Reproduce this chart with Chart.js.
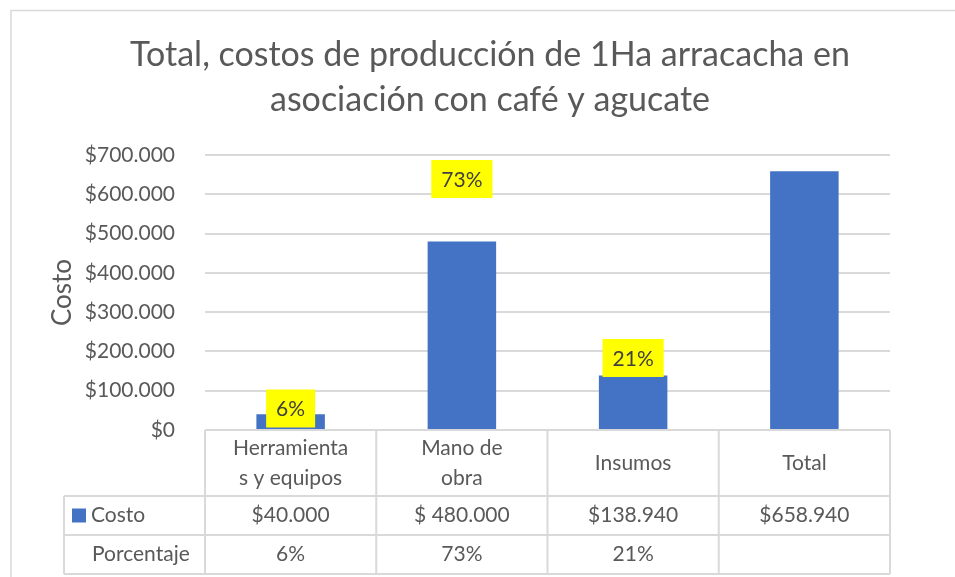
<!DOCTYPE html>
<html lang="es">
<head>
  <meta charset="UTF-8" />
  <title>Costos de producción arracacha</title>
  <script src="https://cdn.jsdelivr.net/npm/chart.js"></script>
  <style>
    html, body { margin: 0; padding: 0; background: #ffffff; }
    #wrap { width: 955px; height: 577px; position: relative; }
  </style>
</head>
<body>
  <div id="wrap"><canvas id="grafica"></canvas></div>

  <script>
    // Datos de la gráfica
    const titulo = ['Total, costos de producción de 1Ha arracacha en', 'asociación con café y agucate'];
    const categorias = [['Herramienta', 's y equipos'], ['Mano de', 'obra'], 'Insumos', 'Total'];
    const costos = [40000, 480000, 138940, 658940];
    const costosTexto = ['$40.000', '$ 480.000', '$138.940', '$658.940'];
    const porcentajes = ['6%', '73%', '21%', ''];
    const ticksY = [0, 100000, 200000, 300000, 400000, 500000, 600000, 700000];

    const gris = '#595959';
    const linea = '#d9d9d9';
    const fuente = 'Lato, "Open Sans", sans-serif';

    function formatoPeso(v) {
      if (v === 0) return '$0';
      return '$' + String(v).replace(/\B(?=(\d{3})+(?!\d))/g, '.');
    }

    // Borde exterior, título, etiquetas amarillas y tabla de datos
    const pluginExcel = {
      id: 'pluginExcel',
      beforeDraw(chart) {
        const ctx = chart.ctx;
        ctx.save();
        ctx.strokeStyle = linea;
        ctx.lineWidth = 1.5;
        ctx.beginPath();
        ctx.moveTo(11, 577);
        ctx.lineTo(11, 10.5);
        ctx.lineTo(955, 10.5);
        ctx.stroke();

        // título centrado como en Excel
        ctx.fillStyle = gris;
        ctx.font = '34px ' + fuente;
        ctx.textAlign = 'center';
        ctx.textBaseline = 'middle';
        ctx.fillText(titulo[0], 490, 55);
        ctx.fillText(titulo[1], 490, 100);
        ctx.restore();
      },
      afterDraw(chart, args, opts) {
        const ctx = chart.ctx;
        const x = chart.scales.x;
        const y = chart.scales.y;
        const n = categorias.length;
        const ancho = (x.right - x.left) / n;
        ctx.save();

        // etiquetas de porcentaje
        ctx.font = '21px ' + fuente;
        ctx.textAlign = 'center';
        ctx.textBaseline = 'middle';
        porcentajes.forEach((p, i) => {
          if (!p || opts.etiquetaEn[i] == null) return;
          const cx = x.getPixelForValue(i);
          const cy = y.getPixelForValue(opts.etiquetaEn[i]);
          const w = ctx.measureText(p).width + 20;
          const h = 38;
          ctx.fillStyle = '#ffff00';
          ctx.fillRect(cx - w / 2, cy - h / 2, w, h);
          ctx.fillStyle = '#404040';
          ctx.fillText(p, cx, cy + 1);
        });

        // tabla de datos
        const top = y.bottom;
        const filaCab = 66, fila = 39;
        const y1 = top + filaCab, y2 = y1 + fila, y3 = y2 + fila;
        const izq = 64;
        ctx.strokeStyle = linea;
        ctx.lineWidth = 2;
        ctx.beginPath();
        ctx.moveTo(x.left, top); ctx.lineTo(x.right, top);
        ctx.moveTo(izq, y1); ctx.lineTo(x.right, y1);
        ctx.moveTo(izq, y2); ctx.lineTo(x.right, y2);
        ctx.moveTo(izq, y3); ctx.lineTo(x.right, y3);
        ctx.moveTo(izq, y1); ctx.lineTo(izq, y3);
        for (let i = 0; i <= n; i++) {
          const xx = x.left + ancho * i;
          ctx.moveTo(xx, top); ctx.lineTo(xx, y3);
        }
        ctx.stroke();

        ctx.fillStyle = gris;
        ctx.font = '21px ' + fuente;
        categorias.forEach((c, i) => {
          const cx = x.getPixelForValue(i);
          const lineas = Array.isArray(c) ? c : [c];
          const mid = top + filaCab / 2;
          lineas.forEach((t, k) => {
            ctx.fillText(t, cx, mid + (k - (lineas.length - 1) / 2) * 30);
          });
          ctx.fillText(costosTexto[i], cx, y1 + fila / 2);
          ctx.fillText(porcentajes[i], cx, y2 + fila / 2);
        });

        // leyenda en la tabla
        ctx.fillStyle = '#4472c4';
        ctx.fillRect(72, y1 + fila / 2 - 7, 14, 14);
        ctx.fillStyle = gris;
        ctx.textAlign = 'left';
        ctx.fillText('Costo', 91, y1 + fila / 2);
        ctx.fillText('Porcentaje', 92, y2 + fila / 2);
        ctx.restore();
      }
    };

    new Chart(document.getElementById('grafica'), {
      type: 'bar',
      data: {
        labels: categorias,
        datasets: [{
          label: 'Costo',
          data: costos,
          backgroundColor: '#4472c4',
          barPercentage: 0.4,
          categoryPercentage: 1
        }]
      },
      options: {
        responsive: true,
        maintainAspectRatio: false,
        animation: false,
        layout: { padding: { top: 155, right: 65, bottom: 147, left: 0 } },
        plugins: {
          legend: { display: false },
          tooltip: { enabled: false },
          title: { display: false },
          pluginExcel: { etiquetaEn: [54700, 638900, 183300, null] }
        },
        scales: {
          x: { display: false },
          y: {
            min: 0,
            max: 700000,
            afterBuildTicks(scale) { scale.ticks = ticksY.map(v => ({ value: v })); },
            afterFit(scale) { scale.width = 205; },
            grid: { color: linea, lineWidth: 2, drawTicks: false },
            border: { display: false },
            ticks: {
              color: gris,
              padding: 30,
              font: { family: fuente, size: 21 },
              callback: v => formatoPeso(v)
            },
            title: {
              display: true,
              text: 'Costo',
              color: gris,
              font: { family: fuente, size: 26 },
              padding: { top: 47, bottom: 0 }
            }
          }
        }
      },
      plugins: [pluginExcel]
    });
  </script>
</body>
</html>
